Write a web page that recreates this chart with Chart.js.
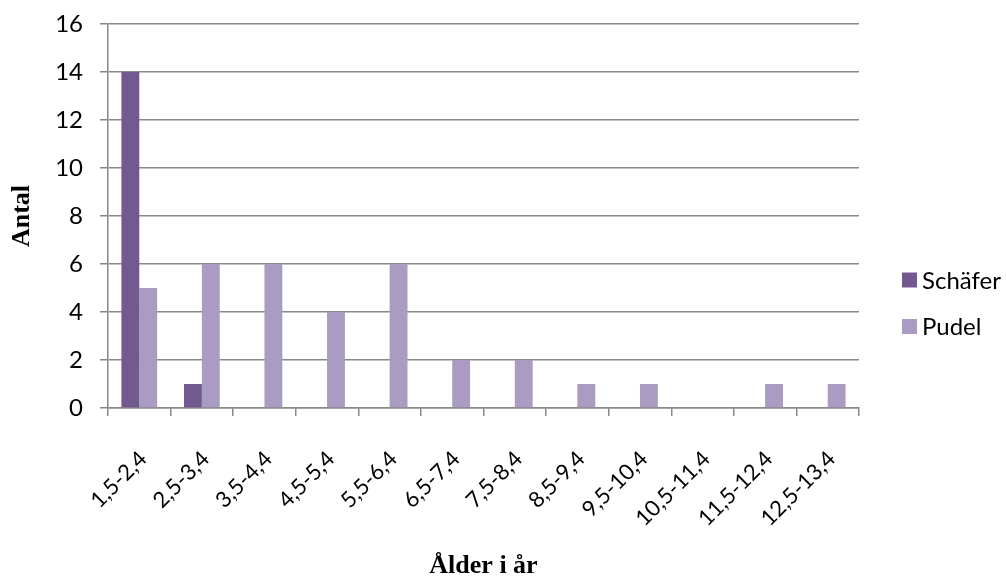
<!DOCTYPE html>
<html>
<head>
<meta charset="utf-8">
<script src="https://cdn.jsdelivr.net/npm/chart.js@4/dist/chart.umd.min.js"></script>
<style>
  html, body { margin: 0; padding: 0; background: #ffffff; }
  #wrap { width: 1006px; height: 577px; }
</style>
</head>
<body>
<div id="wrap"><canvas id="c" width="1006" height="577"></canvas></div>
<script>
// Age groups (years)
const categories = ['1,5-2,4', '2,5-3,4', '3,5-4,4', '4,5-5,4', '5,5-6,4', '6,5-7,4',
                    '7,5-8,4', '8,5-9,4', '9,5-10,4', '10,5-11,4', '11,5-12,4', '12,5-13,4'];
// Number of dogs per age group
const schaferCounts = [14, 1, 0, 0, 0, 0, 0, 0, 0, 0, 0, 0];
const pudelCounts   = [5, 6, 6, 4, 6, 2, 2, 1, 1, 0, 1, 1];
// Y axis ticks
const yTicks = [0, 2, 4, 6, 8, 10, 12, 14, 16];
const seriesNames = ['Schäfer', 'Pudel'];
const seriesColors = ['#725A90', '#A99BC1'];

const tickFont = { family: 'Lato', size: 24 };
const catFont = { family: 'Lato', size: 22 };
const titleFont = { family: 'Liberation Serif', size: 26, weight: 'bold', lineHeight: 0.85 };
const gridColor = '#888888';

// Legend drawn at the right side, squares plus names
const sideLegend = {
  id: 'sideLegend',
  afterDraw(chart) {
    const ctx = chart.ctx;
    ctx.save();
    ctx.font = `${tickFont.size}px ${tickFont.family}`;
    ctx.textBaseline = 'middle';
    ctx.textAlign = 'left';
    chart.data.datasets.forEach((ds, i) => {
      const cy = 280 + i * 46.5;
      ctx.fillStyle = ds.backgroundColor;
      ctx.fillRect(902, cy - 7.5, 15, 15);
      ctx.fillStyle = '#000000';
      ctx.fillText(ds.label, 922, cy + 1);
    });
    ctx.restore();
  }
};

new Chart(document.getElementById('c'), {
  type: 'bar',
  data: {
    labels: categories,
    datasets: [
      { label: seriesNames[0], data: schaferCounts, backgroundColor: seriesColors[0] },
      { label: seriesNames[1], data: pudelCounts, backgroundColor: seriesColors[1] }
    ]
  },
  options: {
    responsive: false,
    animation: false,
    devicePixelRatio: 1,
    categoryPercentage: 2 / 3.5,
    barPercentage: 1.0,
    layout: { padding: { left: 0, top: 24, right: 147, bottom: 0 } },
    plugins: {
      legend: { display: false },
      tooltip: { enabled: false }
    },
    scales: {
      x: {
        grid: {
          display: true,
          drawOnChartArea: false,
          drawTicks: true,
          tickLength: 8,
          color: gridColor,
          lineWidth: 1.5,
          offset: true
        },
        border: { display: true, color: gridColor, width: 1.5 },
        ticks: {
          font: catFont,
          color: '#000000',
          minRotation: 45,
          maxRotation: 45,
          autoSkip: false,
          padding: 30,
          labelOffset: 4
        },
        title: {
          display: true,
          text: 'Ålder i år',
          font: titleFont,
          color: '#000000',
          padding: { top: 0, bottom: 0 }
        },
        afterFit(scale) {
          scale.height = 169;
          scale.paddingLeft = 0;
          scale.paddingRight = 0;
        }
      },
      y: {
        min: 0,
        max: 16,
        afterBuildTicks(scale) { scale.ticks = yTicks.map(v => ({ value: v })); },
        grid: {
          color: gridColor,
          lineWidth: 1.5,
          tickLength: 8,
          drawTicks: true
        },
        border: { display: true, color: gridColor, width: 1.5 },
        ticks: {
          font: tickFont,
          color: '#000000',
          padding: 17
        },
        title: {
          display: true,
          text: 'Antal',
          font: { family: 'Liberation Serif', size: 26, weight: 'bold' },
          color: '#000000',
          padding: { top: 7, bottom: 0 }
        },
        afterFit(scale) {
          scale.width = 108;
          scale.paddingTop = 0;
          scale.paddingBottom = 0;
        }
      }
    }
  },
  plugins: [sideLegend]
});
</script>
</body>
</html>
